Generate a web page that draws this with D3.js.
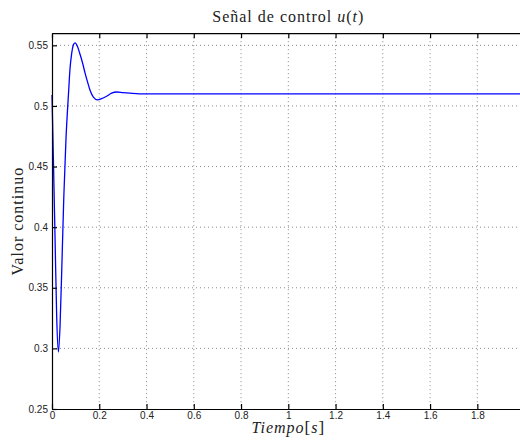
<!DOCTYPE html>
<meta charset="utf-8">
<head>
  <title>Señal de control</title>
</head>
<style>
    body {
        margin: 0;
        background-color: #fff;
    }

    #chart {
        display: block;
    }

    .tick text {
        font-family: "Liberation Sans", Arial, sans-serif;
        font-size: 10px;
        fill: #222;
    }

    path.senal {
        fill: none;
        stroke: #0000ff;
        stroke-width: 1.3px;
    }

    line.grid {
        stroke: #8a8a8a;
        stroke-width: 1px;
        stroke-dasharray: 1px 3px;
    }

    .lbl {
        font-family: "Liberation Serif", "Times New Roman", serif;
        font-size: 16px;
        letter-spacing: 1px;
        fill: #222;
    }
</style>
<body>
    <svg id="chart" width="520" height="446"></svg>

    <script src="https://cdn.jsdelivr.net/npm/d3@7"></script>

    <script>
        // valores
        var tiempo = [0, 0.006, 0.013, 0.02, 0.027, 0.034, 0.042, 0.05, 0.059, 0.0707, 0.076, 0.083, 0.09, 0.097,
                      0.108, 0.118, 0.13, 0.14, 0.15, 0.161, 0.176, 0.192, 0.21, 0.231, 0.252, 0.274, 0.3, 0.33, 0.37, 0.42, 0.6, 1.0, 1.5, 2.0];
        var valor = [0.509, 0.455, 0.39, 0.325, 0.297, 0.318, 0.37, 0.425, 0.472, 0.513, 0.53, 0.543, 0.55, 0.552,
                     0.549, 0.543, 0.535, 0.527, 0.52, 0.513, 0.507, 0.505, 0.506, 0.508, 0.5105, 0.5115, 0.511, 0.5105, 0.51, 0.51, 0.51, 0.51, 0.51, 0.51];

        var xTicks = [0, 0.2, 0.4, 0.6, 0.8, 1, 1.2, 1.4, 1.6, 1.8];
        var yTicks = [0.25, 0.3, 0.35, 0.4, 0.45, 0.5, 0.55];

        var mLeft = 52, mRight = 524.6, mTop = 33.2, mBottom = 409;

        var svg = d3.select("#chart");

        var x = d3.scaleLinear().domain([0, 2]).range([mLeft, mRight]);
        var y = d3.scaleLinear().domain([0.25, 0.56]).range([mBottom, mTop]);

        // rejilla punteada
        svg.append("g").selectAll("line")
            .data(xTicks.filter(function(d) { return d > 0; }))
            .enter().append("line")
            .attr("class", "grid")
            .attr("x1", function(d) { return x(d); })
            .attr("x2", function(d) { return x(d); })
            .attr("y1", mTop)
            .attr("y2", mBottom);

        svg.append("g").selectAll("line")
            .data(yTicks.filter(function(d) { return d > 0.25; }))
            .enter().append("line")
            .attr("class", "grid")
            .attr("x1", mLeft)
            .attr("x2", mRight)
            .attr("y1", function(d) { return y(d); })
            .attr("y2", function(d) { return y(d); });

        var puntos = tiempo.map(function(t, i) { return [t, valor[i]]; });

        var line = d3.line()
            .x(function(d) { return x(d[0]); })
            .y(function(d) { return y(d[1]); })
            .curve(d3.curveMonotoneX);

        svg.append("path")
            .datum(puntos)
            .attr("class", "senal")
            .attr("d", line);

        // ejes (ticks hacia dentro)
        svg.append("g")
            .attr("transform", "translate(0," + mBottom + ")")
            .call(d3.axisBottom(x).tickValues(xTicks).tickFormat(function(d) { return d; })
                .tickSizeInner(-5).tickSizeOuter(0).tickPadding(3));

        svg.append("g")
            .attr("transform", "translate(0," + mTop + ")")
            .call(d3.axisTop(x).tickValues(xTicks).tickFormat("")
                .tickSizeInner(-5).tickSizeOuter(0));

        svg.append("g")
            .attr("transform", "translate(" + mLeft + ",0)")
            .call(d3.axisLeft(y).tickValues(yTicks).tickFormat(function(d) { return d; })
                .tickSizeInner(-5).tickSizeOuter(0).tickPadding(4));

        svg.selectAll(".domain, .tick line")
            .attr("stroke", "#000")
            .attr("stroke-width", 1.2);

        // textos
        var titulo = svg.append("text")
            .attr("class", "lbl")
            .attr("x", (mLeft + mRight) / 2)
            .attr("y", 22)
            .attr("text-anchor", "middle");
        titulo.append("tspan").text("Señal de control ");
        titulo.append("tspan").style("font-style", "italic").text("u");
        titulo.append("tspan").text("(");
        titulo.append("tspan").style("font-style", "italic").text("t");
        titulo.append("tspan").text(")");

        var xlab = svg.append("text")
            .attr("class", "lbl")
            .attr("x", (mLeft + mRight) / 2)
            .attr("y", 433)
            .attr("text-anchor", "middle");
        xlab.append("tspan").style("font-style", "italic").text("Tiempo");
        xlab.append("tspan").style("font-size", "17px").text("[");
        xlab.append("tspan").style("font-style", "italic").text("s");
        xlab.append("tspan").style("font-size", "17px").text("]");

        svg.append("text")
            .attr("class", "lbl")
            .attr("transform", "translate(23," + ((mTop + mBottom) / 2) + ") rotate(-90)")
            .attr("text-anchor", "middle")
            .text("Valor continuo");
    </script>
</body>
